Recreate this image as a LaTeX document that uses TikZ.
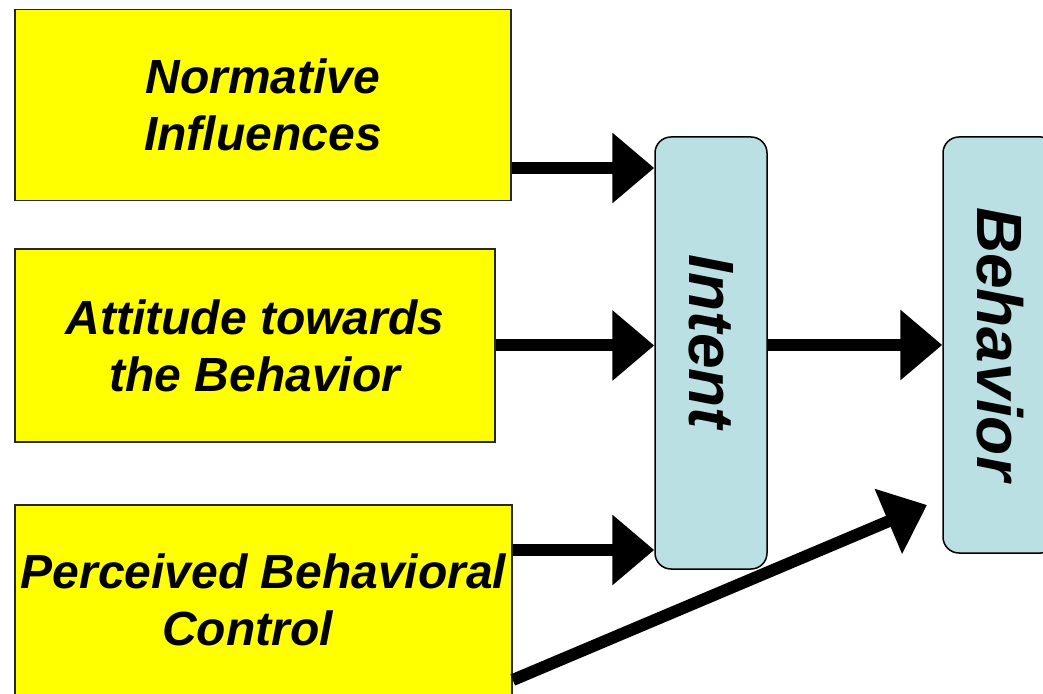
\documentclass[tikz,border=0pt]{standalone}
\usepackage{fontspec}
\setmainfont{Liberation Sans}
\usetikzlibrary{arrows.meta}

\definecolor{factoryellow}{RGB}{255,255,0}
\definecolor{stageblue}{RGB}{187,224,227}

\tikzset{
  factor/.style={draw=black!85, line width=0.75pt, fill=factoryellow, inner sep=0pt,
    align=center, font=\fontsize{24}{28.5}\selectfont\bfseries\itshape},
  stage/.style={draw=black, line width=0.75pt, fill=stageblue, rounded corners=8pt,
    inner sep=0pt},
  stagetext/.style={rotate=-90, inner sep=0pt, font=\fontsize{32}{36}\selectfont\bfseries\itshape},
  flow/.style={line width=6pt, -{Triangle[length=21pt,width=34pt]}}
}

\begin{document}
\begin{tikzpicture}[x=0.5pt,y=-0.5pt]
  \useasboundingbox (0,0) rectangle (1043,694);

  % the three factors on the left
  \node[factor, minimum width=248pt, minimum height=95.5pt] (norm) at (263,105)
    {Normative\\Influences};
  \node[factor, minimum width=240pt, minimum height=96.5pt] (attitude) at (255,345.5)
    {Attitude towards\\the Behavior};
  \node[factor, minimum width=248.5pt, minimum height=95pt] (control) at (263.5,600)
    {Perceived Behavioral\\Control\hspace*{16pt}};

  % intent and behavior columns
  \node[stage, minimum width=56pt, minimum height=216pt] (intent) at (711,353) {};
  \node[stagetext] (intentlabel) at (711,342) {Intent};
  \node[stage, minimum width=57pt, minimum height=208pt] (behavior) at (1000,345) {};
  \node[stagetext] (behaviorlabel) at (1000,344) {Behavior};

  \coordinate (pbctip) at (927,505);

  % arrows
  \draw[flow] (norm.east |- 0,168) -- (intent.west |- 0,168);
  \draw[flow] (attitude.east) -- (attitude.east -| intent.west);
  \draw[flow] (control.east |- 0,550) -- (intent.west |- 0,550);
  \draw[flow] (intent.east |- behavior.west) -- (behavior.west);
  \draw[flow] (control.east |- 0,680) -- (pbctip);
\end{tikzpicture}
\end{document}
